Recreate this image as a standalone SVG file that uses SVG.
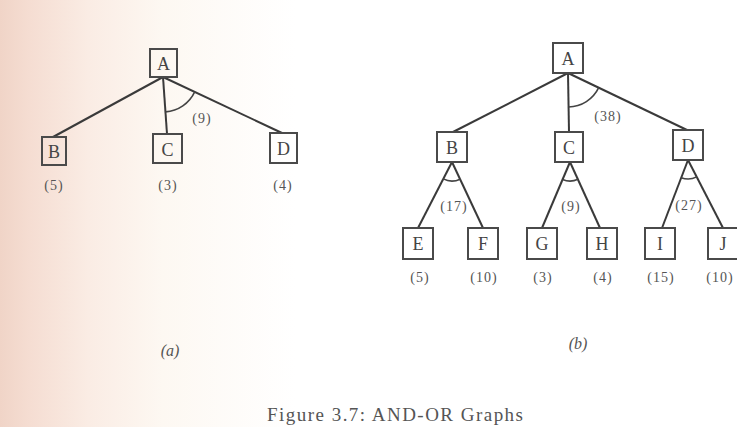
<svg xmlns="http://www.w3.org/2000/svg" width="737" height="427" viewBox="0 0 737 427">
<defs>
<linearGradient id="bg" x1="0" y1="0" x2="1" y2="0">
<stop offset="0" stop-color="#f0d4c7"/>
<stop offset="0.04" stop-color="#f5ddd2"/>
<stop offset="0.12" stop-color="#faece4"/>
<stop offset="0.22" stop-color="#fdf8f2"/>
<stop offset="0.4" stop-color="#ffffff"/>
<stop offset="1" stop-color="#ffffff"/>
</linearGradient>
<style>
.box{fill:none;stroke:#4a4a4a;stroke-width:2}
.edge{fill:none;stroke:#3a3a3a;stroke-width:2}
.arc{fill:none;stroke:#444;stroke-width:1.6}
.lt{font-family:"Liberation Serif",serif;font-size:18px;fill:#444;text-anchor:middle}
.val{font-family:"Liberation Serif",serif;font-size:14px;fill:#555;text-anchor:middle;letter-spacing:1px}
.cap{font-family:"Liberation Serif",serif;font-size:16px;fill:#555;text-anchor:middle;font-style:italic}
</style>
</defs>
<rect x="0" y="0" width="737" height="427" fill="url(#bg)"/>

<g id="connectors">
<!-- (a) -->
<line class="edge" x1="163" y1="77" x2="53" y2="137"/>
<line class="edge" x1="163" y1="77" x2="167" y2="134"/>
<line class="edge" x1="163" y1="77" x2="282" y2="133"/>
<path class="arc" d="M165.5 111.9 A35 35 0 0 0 194.7 91.9"/>
<!-- (b) -->
<line class="edge" x1="568" y1="73" x2="453" y2="132"/>
<line class="edge" x1="568" y1="73" x2="569" y2="132"/>
<line class="edge" x1="568" y1="73" x2="687" y2="130"/>
<path class="arc" d="M568.6 107 A34 34 0 0 0 598.7 87.7"/>
<line class="edge" x1="452" y1="162" x2="418" y2="228"/>
<line class="edge" x1="452" y1="162" x2="483" y2="228"/>
<path class="arc" d="M443.3 178.9 A19 19 0 0 0 460.1 179.2"/>
<line class="edge" x1="570" y1="162" x2="542" y2="228"/>
<line class="edge" x1="570" y1="162" x2="600" y2="228"/>
<path class="arc" d="M562.6 179.5 A19 19 0 0 0 577.9 179.3"/>
<line class="edge" x1="688" y1="160" x2="662" y2="228"/>
<line class="edge" x1="688" y1="160" x2="723" y2="228"/>
<path class="arc" d="M681.2 177.7 A19 19 0 0 0 696.7 176.9"/>
</g>

<g id="a-labels">
<text class="val" x="202" y="123">(9)</text>
<text class="cap" x="170" y="356">(a)</text>
</g>
<g id="a-A"><rect class="box" x="150" y="49" width="27" height="28"/><text class="lt" x="163.5" y="70">A</text></g>
<g id="a-B"><rect class="box" x="42" y="137" width="24" height="28"/><text class="lt" x="54" y="158">B</text><text class="val" x="54" y="190">(5)</text></g>
<g id="a-C"><rect class="box" x="153" y="134" width="29" height="29"/><text class="lt" x="167.5" y="156">C</text><text class="val" x="168" y="190">(3)</text></g>
<g id="a-D"><rect class="box" x="270" y="133" width="27" height="30"/><text class="lt" x="283.5" y="155">D</text><text class="val" x="283" y="190">(4)</text></g>

<g id="b-labels">
<text class="val" x="608" y="121">(38)</text>
<text class="val" x="454" y="211">(17)</text>
<text class="val" x="571" y="211">(9)</text>
<text class="val" x="689" y="210">(27)</text>
<text class="cap" x="578" y="349">(b)</text>
</g>
<g id="b-A"><rect class="box" x="553" y="43" width="30" height="30"/><text class="lt" x="568" y="65">A</text></g>
<g id="b-B"><rect class="box" x="437" y="132" width="30" height="30"/><text class="lt" x="452" y="154">B</text></g>
<g id="b-C"><rect class="box" x="555" y="132" width="28" height="30"/><text class="lt" x="569" y="154">C</text></g>
<g id="b-D"><rect class="box" x="673" y="130" width="30" height="30"/><text class="lt" x="688" y="152">D</text></g>
<g id="b-E"><rect class="box" x="403" y="228" width="30" height="31"/><text class="lt" x="418" y="250">E</text><text class="val" x="420" y="282">(5)</text></g>
<g id="b-F"><rect class="box" x="468" y="228" width="30" height="31"/><text class="lt" x="483" y="250">F</text><text class="val" x="484" y="282">(10)</text></g>
<g id="b-G"><rect class="box" x="527" y="228" width="30" height="31"/><text class="lt" x="542" y="250">G</text><text class="val" x="543" y="282">(3)</text></g>
<g id="b-H"><rect class="box" x="587" y="228" width="30" height="31"/><text class="lt" x="602" y="250">H</text><text class="val" x="603" y="282">(4)</text></g>
<g id="b-I"><rect class="box" x="645" y="228" width="30" height="31"/><text class="lt" x="660" y="250">I</text><text class="val" x="661" y="282">(15)</text></g>
<g id="b-J"><rect class="box" x="708" y="228" width="30" height="31"/><text class="lt" x="723" y="250">J</text><text class="val" x="720" y="282">(10)</text></g>

<text x="267" y="421" font-family="Liberation Serif, serif" font-size="19" fill="#555" textLength="256" lengthAdjust="spacing">Figure 3.7: AND-OR Graphs</text>
</svg>
